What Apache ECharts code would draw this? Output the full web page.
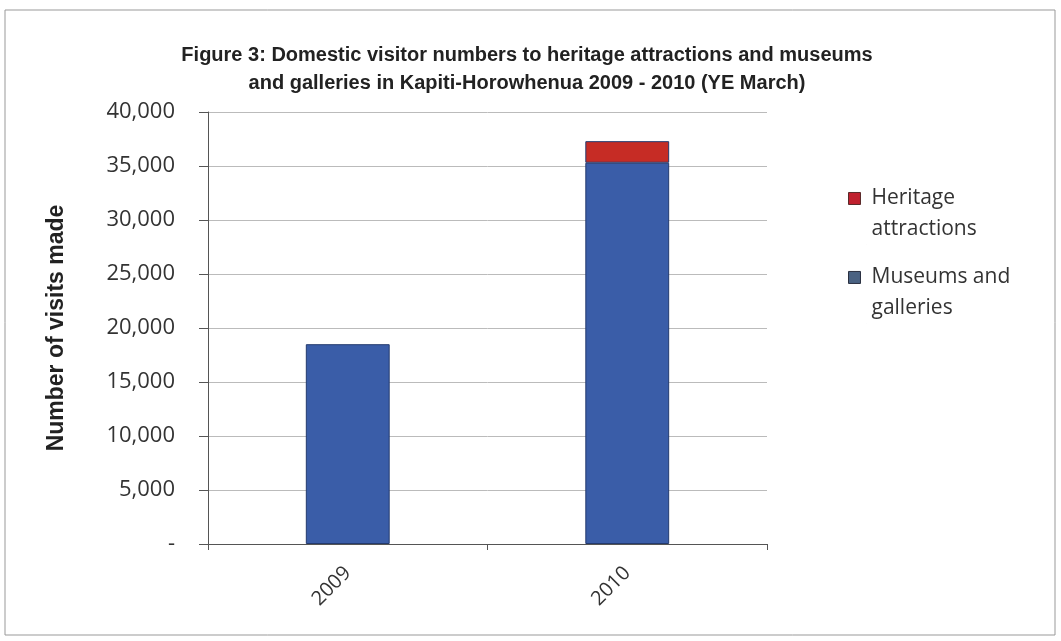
<!DOCTYPE html>
<html>
<head>
<meta charset="utf-8">
<script src="https://cdn.jsdelivr.net/npm/echarts@6/dist/echarts.min.js"></script>
<style>
  html, body { margin: 0; padding: 0; background: #fff; }
  #chart { width: 1061px; height: 641px; }
</style>
</head>
<body>
<div id="chart"></div>
<script>
// values
const years = ['2009', '2010']
const museums = [18500, 35300]
const heritage = [null, 2000]
const yTicks = [0, 5000, 10000, 15000, 20000, 25000, 30000, 35000, 40000]

const chart = echarts.init(document.getElementById('chart'))

const fmt = v => (v === 0 ? '-' : v.toLocaleString('en-US'))

// square sitting on the first text line of a two line legend entry
const legendIcon = 'path://M0,10H12V22H0Z M0,0L0.01,0 M18,62L18.01,62'

chart.setOption({
  animation: false,
  backgroundColor: '#fff',
  title: {
    text: 'Figure 3: Domestic visitor numbers to heritage attractions and museums\nand galleries in Kapiti-Horowhenua 2009 - 2010 (YE March)',
    left: 522,
    top: 36,
    textAlign: 'center',
    textStyle: {
      fontFamily: 'Liberation Sans',
      fontWeight: 'bold',
      fontSize: 20,
      lineHeight: 28,
      color: '#222'
    }
  },
  graphic: [
    {
      type: 'rect',
      shape: { x: 5, y: 10, width: 1050, height: 625 },
      style: { fill: 'none', stroke: '#999', lineWidth: 1 },
      silent: true
    }
  ],
  legend: {
    orient: 'vertical',
    left: 843,
    top: 177,
    icon: legendIcon,
    itemWidth: 18,
    itemHeight: 62,
    itemGap: 16,
    data: [
      { name: 'Heritage\nattractions', itemStyle: { color: '#c0202e', borderColor: '#5a2a2a', borderWidth: 1 } },
      { name: 'Museums and\ngalleries', itemStyle: { color: '#4a6282', borderColor: '#2a3040', borderWidth: 1 } }
    ],
    textStyle: {
      fontFamily: 'Open Sans',
      fontSize: 21,
      lineHeight: 31,
      color: '#333'
    }
  },
  grid: {
    left: 208,
    right: 294,
    top: 112,
    bottom: 97
  },
  xAxis: {
    type: 'category',
    data: years,
    axisLine: { lineStyle: { color: '#555', width: 1 } },
    axisTick: { show: true, length: 6, lineStyle: { color: '#555' } },
    axisLabel: {
      rotate: 45,
      margin: 26,
      fontFamily: 'Open Sans',
      fontSize: 20,
      color: '#333'
    }
  },
  yAxis: {
    type: 'value',
    min: yTicks[0],
    max: yTicks[yTicks.length - 1],
    interval: 5000,
    name: 'Number of visits made',
    nameLocation: 'middle',
    nameGap: 140,
    nameRotate: 90,
    nameTextStyle: {
      fontFamily: 'Liberation Sans',
      fontWeight: 'bold',
      fontSize: 23,
      color: '#222'
    },
    axisLine: { show: true, lineStyle: { color: '#555', width: 1 } },
    axisTick: { show: true, inside: false, length: 9, lineStyle: { color: '#555' } },
    splitLine: { lineStyle: { color: '#bbb', width: 1 } },
    axisLabel: {
      formatter: fmt,
      margin: 33,
      fontFamily: 'Open Sans',
      fontSize: 22,
      color: '#333'
    }
  },
  series: [
    {
      name: 'Museums and\ngalleries',
      type: 'bar',
      stack: 'visits',
      data: museums,
      barWidth: '30%',
      itemStyle: { color: '#3a5da8', borderColor: '#233a6e', borderWidth: 1 }
    },
    {
      name: 'Heritage\nattractions',
      type: 'bar',
      stack: 'visits',
      data: heritage,
      barWidth: '30%',
      itemStyle: { color: '#c62c25', borderColor: '#233a6e', borderWidth: 1 }
    }
  ]
})
</script>
</body>
</html>
